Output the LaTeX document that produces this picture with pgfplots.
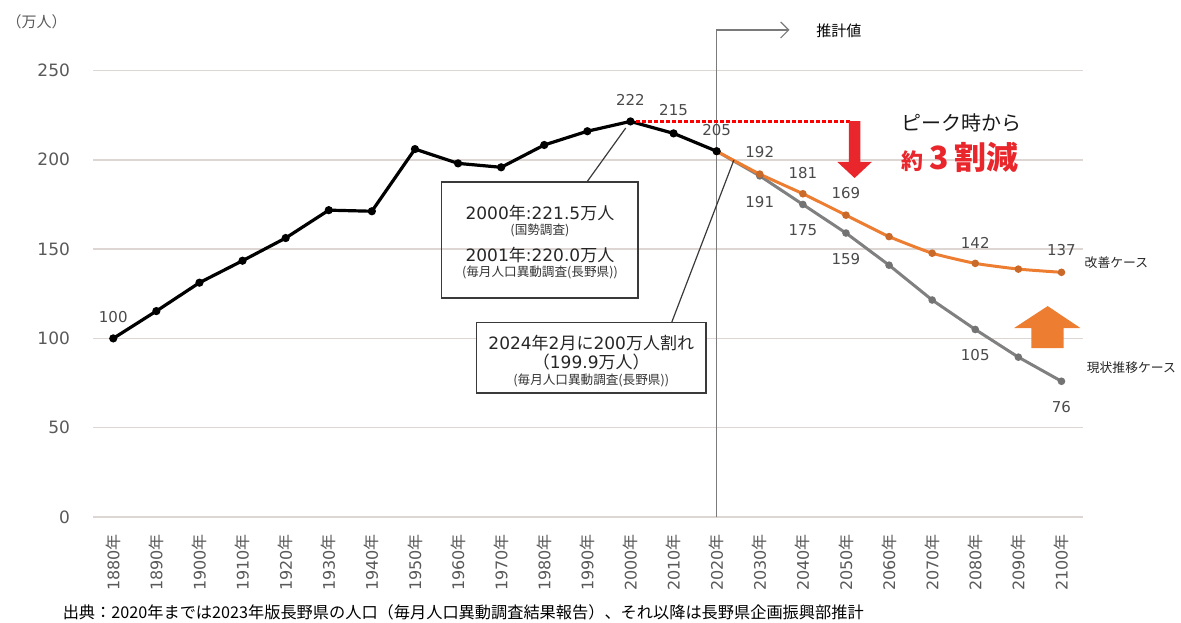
\documentclass[border=0pt]{standalone}
\usepackage{fontspec}
\setmainfont{DejaVu Sans}
\newfontfamily\jp{Noto Sans CJK JP}
\usepackage{pgfplots}
\pgfplotsset{compat=1.18}
\usetikzlibrary{arrows.meta}
\definecolor{gridc}{HTML}{DDD6D2}
\definecolor{tickc}{HTML}{595959}
\definecolor{labc}{HTML}{4A4A4A}
\definecolor{orangec}{HTML}{ED7D31}
\definecolor{grayc}{HTML}{808080}
\definecolor{redc}{HTML}{E8262B}
\definecolor{boxc}{HTML}{3A3A3A}
\definecolor{vlinec}{HTML}{7A7A7A}

\begin{document}
\begin{tikzpicture}
\begin{axis}[
    at={(46.5pt,52.5pt)}, anchor=south west,
    scale only axis, width=495pt, height=223.25pt,
    xmin=-0.47, xmax=22.5, ymin=0, ymax=250,
    clip=false,
    axis line style={draw=none},
    major tick length=0pt,
    ymajorgrids, grid style={gridc, line width=0.7pt},
    ytick={0,50,100,150,200,250},
    xtick={0,...,22},
    xticklabels={1880{\jp 年},1890{\jp 年},1900{\jp 年},1910{\jp 年},1920{\jp 年},1930{\jp 年},
        1940{\jp 年},1950{\jp 年},1960{\jp 年},1970{\jp 年},1980{\jp 年},1990{\jp 年},
        2000{\jp 年},2010{\jp 年},2020{\jp 年},2030{\jp 年},2040{\jp 年},2050{\jp 年},
        2060{\jp 年},2070{\jp 年},2080{\jp 年},2090{\jp 年},2100{\jp 年}},
    /pgf/number format/assume math mode=true,
    yticklabel style={font=\fontsize{8.5}{10}\selectfont, text=tickc},
    yticklabel shift=8pt,
    xticklabel style={rotate=90, anchor=east, font=\fontsize{8}{9}\selectfont, text=tickc},
    xticklabel shift=5pt,
]
% 現状推移ケース
\addplot[grayc, line width=1.5pt, mark=*, mark size=1.1pt, mark options={fill=black!55, draw=black!55}] coordinates {
    (14,204.8) (15,191) (16,175) (17,159) (18,141) (19,121.5) (20,105) (21,89.5) (22,76)
};
% 改善ケース
\addplot[orangec, line width=1.5pt, mark=*, mark size=1.1pt, mark options={fill=orangec!85!black, draw=orangec!85!black}, smooth, tension=0.3] coordinates {
    (14,204.8) (15,192) (16,181) (17,169) (18,157) (19,147.7) (20,142) (21,138.8) (22,137)
};
% 実績
\addplot[black, line width=1.6pt, mark=*, mark size=1.2pt] coordinates {
    (0,100) (1,115.3) (2,131.2) (3,143.5) (4,156.2) (5,171.8) (6,171.2) (7,206.0)
    (8,198.0) (9,195.8) (10,208.3) (11,216.0) (12,221.5) (13,214.8) (14,204.8)
};

% 推計値 marker
\draw[vlinec, line width=0.6pt, -{Straight Barb[length=4pt,width=8pt]}]
    (axis cs:14,0) -- (axis cs:14,272.7) -- (axis cs:15.69,272.7);
\node[anchor=west, font=\jp\fontsize{7.5}{8}\selectfont, text=black] at (axis cs:16.15,272.1) {推計値};
\node[font=\jp\fontsize{7.5}{8}\selectfont, text=tickc] at (axis cs:-1.78,277.2) {（万人）};

% peak dotted line and red arrow
\draw[red, line width=1.5pt, dash pattern=on 1.6pt off 1.4pt] (axis cs:12,221.7) -- (axis cs:17.09,221.7);
\fill[redc] (axis cs:17.067,221.7) -- (axis cs:17.333,221.7) -- (axis cs:17.333,198.8)
    -- (axis cs:17.60,198.8) -- (axis cs:17.20,189.8) -- (axis cs:16.80,198.8)
    -- (axis cs:17.067,198.8) -- cycle;
\node[anchor=west, inner sep=0pt, font=\jp\fontsize{10}{11}\selectfont, text=black!90] at (axis cs:18.27,220.6) {ピーク時から};
\node[anchor=base west, inner sep=0pt, text=redc, font=\jp\bfseries] at (axis cs:18.27,194.3)
    {{\fontsize{11}{11}\selectfont 約}\hspace{3pt}{\fontsize{16}{16}\selectfont 3\hspace{3pt}割減}};

% orange up arrow
\fill[orangec] (axis cs:21.30,94.6) -- (axis cs:22.05,94.6) -- (axis cs:22.05,105.8)
    -- (axis cs:22.44,105.8) -- (axis cs:21.68,118.1) -- (axis cs:20.90,105.8)
    -- (axis cs:21.30,105.8) -- cycle;

% data labels
\begin{scope}[every node/.style={font=\fontsize{7.5}{8}\selectfont, text=labc}]
\node at (axis cs:0,112) {100};
\node at (axis cs:12,233.6) {222};
\node at (axis cs:13,227.6) {215};
\node at (axis cs:14,216.8) {205};
\node at (axis cs:15,204.6) {192};
\node at (axis cs:16,192.8) {181};
\node at (axis cs:17,181.2) {169};
\node at (axis cs:20,153.6) {142};
\node at (axis cs:22,149.4) {137};
\node at (axis cs:15,176.6) {191};
\node at (axis cs:16,160.7) {175};
\node at (axis cs:17,144.5) {159};
\node at (axis cs:20,90.7) {105};
\node at (axis cs:22,61.8) {76};
\end{scope}

% series labels
\node[anchor=west, inner sep=0pt, font=\jp\fontsize{6.4}{7}\selectfont, text=black!85] at (axis cs:22.53,142.2) {改善ケース};
\node[anchor=west, inner sep=0pt, font=\jp\fontsize{6.4}{7}\selectfont, text=black!85] at (axis cs:22.58,83.4) {現状推移ケース};

% callout 1
\draw[boxc, line width=0.6pt] (axis cs:10.99,187.6) -- (axis cs:11.89,217.8);
\draw[boxc, line width=0.8pt] (axis cs:7.62,122.5) rectangle (axis cs:12.17,187.7);
\node[font=\fontsize{8.5}{9}\selectfont, text=black!85] at (axis cs:9.90,170.0) {2000{\jp 年}:221.5{\jp 万人}};
\node[font=\jp\fontsize{6.3}{7}\selectfont, text=black!80] at (axis cs:9.90,160.7) {(国勢調査)};
\node[font=\fontsize{8.5}{9}\selectfont, text=black!85] at (axis cs:9.90,146.7) {2001{\jp 年}:220.0{\jp 万人}};
\node[font=\jp\fontsize{6.3}{7}\selectfont, text=black!80] at (axis cs:9.90,136.8) {(毎月人口異動調査(長野県))};

% callout 2
\draw[boxc, line width=0.6pt] (axis cs:12.96,109.2) -- (axis cs:14.4,199.9);
\draw[boxc, line width=0.8pt, fill=white] (axis cs:8.43,69.6) rectangle (axis cs:13.75,108.8);
\node[font=\fontsize{8.5}{9}\selectfont, text=black!85] at (axis cs:11.09,97.3) {2024{\jp 年}2{\jp 月に}200{\jp 万人割れ}};
\node[font=\fontsize{8.5}{9}\selectfont, text=black!85] at (axis cs:11.09,87.0) {{\jp （}199.9{\jp 万人）}};
\node[font=\jp\fontsize{6.3}{7}\selectfont, text=black!80] at (axis cs:11.09,76.7) {(毎月人口異動調査(長野県))};

% source
\node[anchor=west, inner sep=0pt, font=\jp\fontsize{8.1}{8.5}\selectfont, text=black] at (axis cs:-1.18,-53.2)
    {出典：2020年までは2023年版長野県の人口（毎月人口異動調査結果報告）、それ以降は長野県企画振興部推計};
\end{axis}
\pgfresetboundingbox
\path[use as bounding box] (0,0) rectangle (590.5pt,311pt);
\end{tikzpicture}
\end{document}
